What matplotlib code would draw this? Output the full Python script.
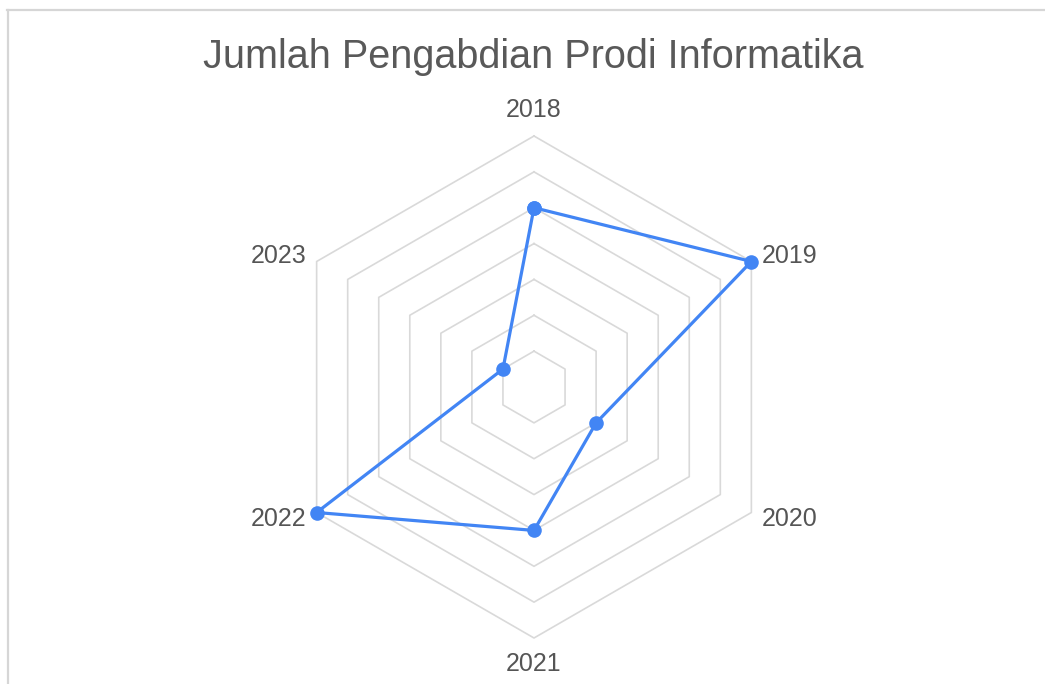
import numpy as np
import matplotlib
matplotlib.use("Agg")
import matplotlib.pyplot as plt
from matplotlib.lines import Line2D

years = ["2018", "2019", "2020", "2021", "2022", "2023"]
values = [5, 7, 2, 4, 7, 1]
ring_levels = [1, 2, 3, 4, 5, 6, 7]
title = "Jumlah Pengabdian Prodi Informatika"

plt.rcParams['font.family'] = ['Liberation Sans', 'DejaVu Sans']

W, H = 1045, 684
fig = plt.figure(figsize=(W / 100, H / 100), dpi=100)
fig.patch.set_facecolor("white")

# screenshot frame lines (top and left)
fig.add_artist(Line2D([7 / W, 1], [1 - 10 / H, 1 - 10 / H], color="#d6d6d6", lw=1.6,
                      transform=fig.transFigure))
fig.add_artist(Line2D([8 / W, 8 / W], [0, 1 - 10 / H], color="#d6d6d6", lw=1.6,
                      transform=fig.transFigure))

cx, cy, R = 534, 387, 251
ax = fig.add_axes([(cx - R) / W, (H - cy - R) / H, 2 * R / W, 2 * R / H], projection="polar")
ax.set_theta_offset(np.pi / 2)
ax.set_theta_direction(-1)
ax.set_ylim(0, max(ring_levels))
ax.grid(False)
ax.set_xticks([])
ax.set_yticks([])
ax.spines["polar"].set_visible(False)
ax.patch.set_alpha(0)

n = len(years)
angles = np.linspace(0, 2 * np.pi, n, endpoint=False)
closed = np.concatenate([angles, angles[:1]])

for lv in ring_levels:
    ax.plot(closed, [lv] * (n + 1), color="#d9d9d9", lw=1.2, zorder=1, clip_on=False)

vals = list(values) + [values[0]]
ax.plot(closed, vals, color="#4285f4", lw=2.3, zorder=3, clip_on=False,
        marker="o", markersize=10.5, markeredgewidth=0, solid_joinstyle="round")

rmax = max(ring_levels)
offsets = [(0, 19, "center", "center"), (7.5, 4, "left", "center"), (7.5, -4.5, "left", "center"),
           (0, -19, "center", "center"), (-7.5, -4.5, "right", "center"), (-7.5, 4, "right", "center")]
for ang, lab, (dx, dy, ha, va) in zip(angles, years, offsets):
    ax.annotate(lab, xy=(ang, rmax), xytext=(dx, dy), textcoords="offset points",
                ha=ha, va=va, fontsize=18, color="#555555", annotation_clip=False)

fig.text(533 / W, 1 - 57 / H, title, ha="center", va="center", fontsize=28.5, color="#595959")

fig.savefig("out.png", dpi=100, facecolor="white")
